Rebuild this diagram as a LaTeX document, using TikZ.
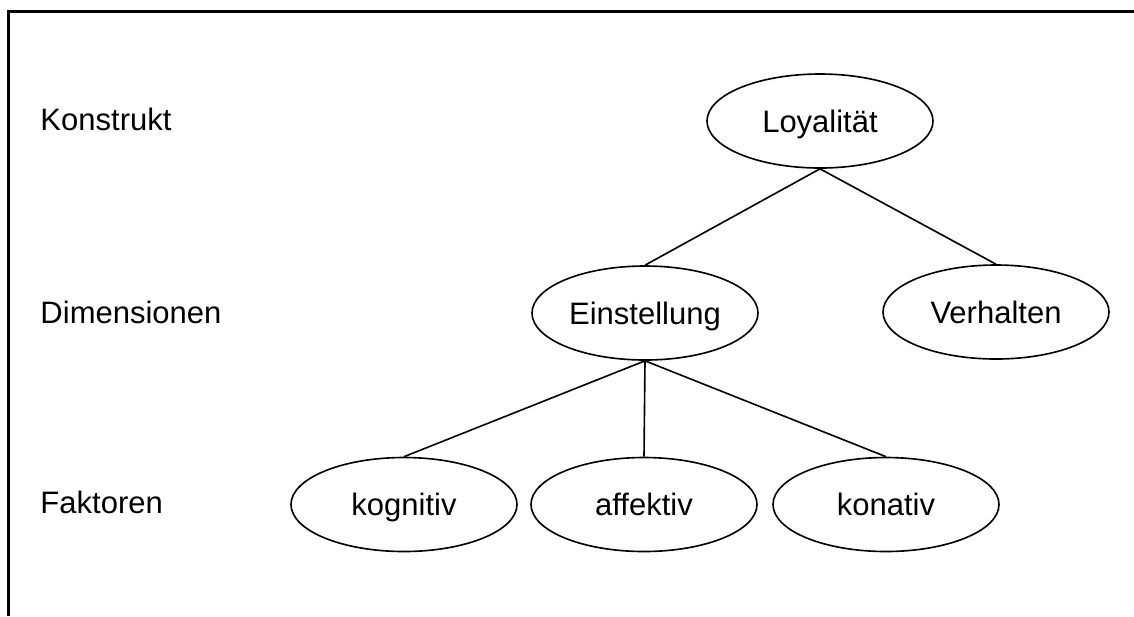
\documentclass[tikz,border=0pt]{standalone}
\usepackage{fontspec}
\setmainfont{Liberation Sans}
\usetikzlibrary{shapes.geometric}
\tikzset{
  konzept/.style={draw, ellipse, line width=0.65pt, minimum width=90.4pt, minimum height=37.6pt, inner sep=0pt, text height=0.9em, text depth=0pt, font=\fontsize{12.4}{15}\selectfont},
  ebene/.style={anchor=west, inner sep=0pt, text height=0.72em, text depth=0pt, font=\fontsize{12.4}{15}\selectfont},
  kante/.style={line width=0.65pt}
}
\begin{document}
\begin{tikzpicture}[x=0.4pt,y=-0.4pt]
\useasboundingbox (0,0) rectangle (1134,616);
\draw[line width=0.9pt] (8.5,616) |- (1134,11.5);

\node[ebene] (konstrukt) at (40,121) {Konstrukt};
\node[ebene] (dimensionen) at (40,314) {Dimensionen};
\node[ebene] (faktoren) at (40,504) {Faktoren};

\node[konzept] (L) at (820,121) {Loyalität};
\node[konzept] (E) at (645,313) {Einstellung};
\node[konzept] (V) at (996,312) {Verhalten};
\node[konzept] (kog) at (404,504.5) {kognitiv};
\node[konzept] (aff) at (644,504.5) {affektiv};
\node[konzept] (kon) at (886,504.5) {konativ};

\draw[kante] (L.south)--(E.north);
\draw[kante] (L.south)--(V.north);
\draw[kante] (E.south)--(kog.north);
\draw[kante] (E.south)--(aff.north);
\draw[kante] (E.south)--(kon.north);

\end{tikzpicture}
\end{document}
